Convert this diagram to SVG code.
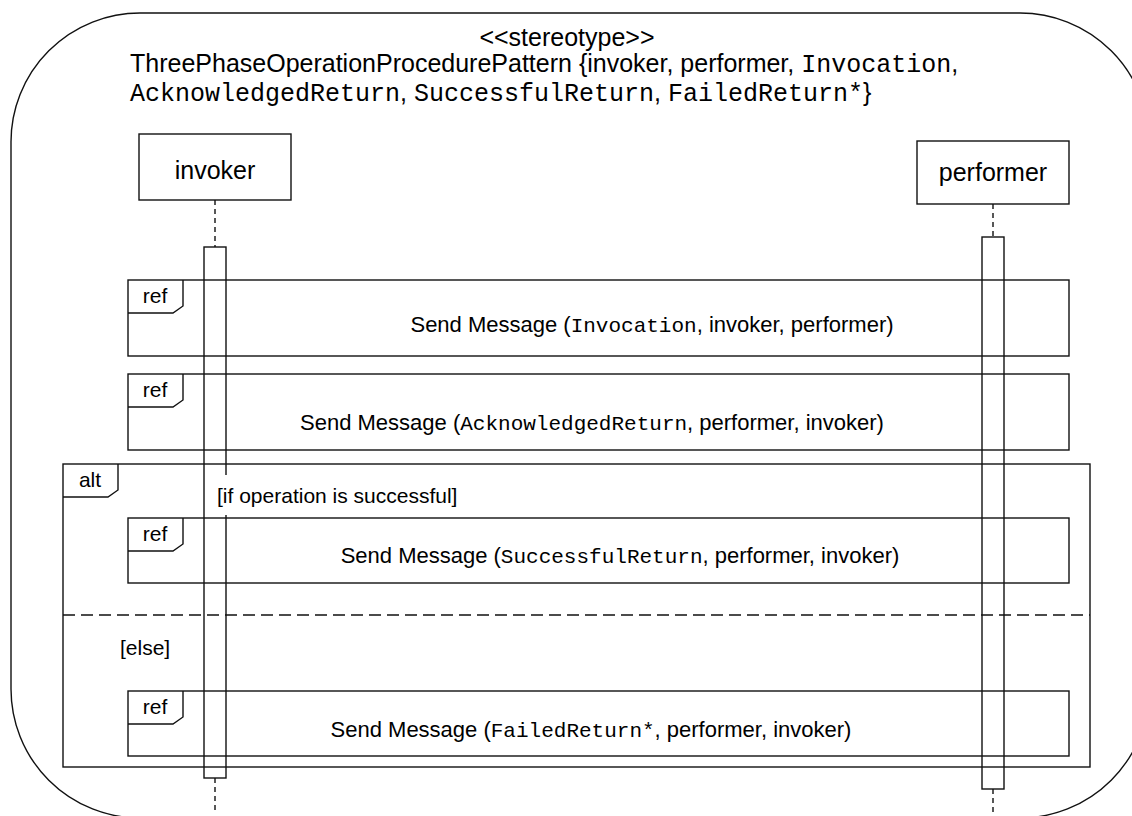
<svg xmlns="http://www.w3.org/2000/svg" width="1132" height="816" viewBox="0 0 1132 816">
<style>
.ln{fill:none;stroke:#111;stroke-width:1.4}
.t{font-family:"Liberation Sans",Arial,sans-serif;fill:#000}
.m{font-family:"Liberation Mono","Courier New",monospace}
.big{font-size:25px}
.msg{font-size:22px}
.lbl{font-size:21px}
.dash{stroke-dasharray:5,4}
</style>
<rect width="1132" height="816" fill="#fff"/>
<g id="frame">
<rect class="ln" x="11" y="13" width="1138" height="805" rx="129" ry="129"/>
<text class="t big" x="567" y="46" text-anchor="middle">&lt;&lt;stereotype&gt;&gt;</text>
<text class="t big" x="130" y="72">ThreePhaseOperationProcedurePattern {invoker, performer, <tspan class="m">Invocation</tspan>,</text>
<text class="t big" x="130" y="101"><tspan class="m">AcknowledgedReturn</tspan>, <tspan class="m">SuccessfulReturn</tspan>, <tspan class="m">FailedReturn*</tspan>}</text>
</g>
<g id="invoker">
<rect class="ln" x="139" y="134" width="152" height="66"/>
<text class="t big" x="215" y="179" text-anchor="middle">invoker</text>
</g>
<g id="performer">
<rect class="ln" x="917" y="141" width="152" height="63"/>
<text class="t big" x="993" y="181" text-anchor="middle">performer</text>
</g>
<g id="ref1">
<rect class="ln" x="128" y="280" width="941" height="76"/>
<path class="ln" d="M128,313 H173 L183,306 V280"/>
<text class="t lbl" x="155" y="303" text-anchor="middle">ref</text>
<text class="t msg" x="652" y="332" text-anchor="middle">Send Message (<tspan class="m" font-size="21">Invocation</tspan>, invoker, performer)</text>
</g>
<g id="ref2">
<rect class="ln" x="128" y="374" width="941" height="76"/>
<path class="ln" d="M128,407 H173 L183,400 V374"/>
<text class="t lbl" x="155" y="397" text-anchor="middle">ref</text>
<text class="t msg" x="592" y="430" text-anchor="middle">Send Message (<tspan class="m" font-size="21">AcknowledgedReturn</tspan>, performer, invoker)</text>
</g>
<g id="alt">
<rect class="ln" x="63" y="464" width="1027" height="303"/>
<path class="ln" d="M63,497 H108 L118,490 V464"/>
<text class="t lbl" x="90" y="487" text-anchor="middle">alt</text>
<line class="ln" x1="63" y1="615" x2="1090" y2="615" stroke-dasharray="12,6"/>
<text class="t lbl" x="120" y="655">[else]</text>
</g>
<g id="ref3">
<rect class="ln" x="128" y="518" width="941" height="65"/>
<path class="ln" d="M128,551 H173 L183,544 V518"/>
<text class="t lbl" x="155" y="541" text-anchor="middle">ref</text>
<text class="t msg" x="620" y="563" text-anchor="middle">Send Message (<tspan class="m" font-size="21">SuccessfulReturn</tspan>, performer, invoker)</text>
</g>
<g id="ref4">
<rect class="ln" x="128" y="691" width="941" height="65"/>
<path class="ln" d="M128,724 H173 L183,717 V691"/>
<text class="t lbl" x="155" y="714" text-anchor="middle">ref</text>
<text class="t msg" x="591" y="737" text-anchor="middle">Send Message (<tspan class="m" font-size="21">FailedReturn*</tspan>, performer, invoker)</text>
</g>
<g id="connectors">
<line class="ln dash" x1="215" y1="200" x2="215" y2="247"/>
<rect class="ln" x="204" y="247" width="22" height="531"/>
<line class="ln dash" x1="215" y1="778" x2="215" y2="812"/>
<line class="ln dash" x1="993" y1="204" x2="993" y2="237"/>
<rect class="ln" x="982" y="237" width="22" height="552"/>
<line class="ln dash" x1="993" y1="789" x2="993" y2="812"/>
</g>
<g id="guard">
<rect x="205" y="475" width="262" height="40" fill="#fff"/>
<text class="t lbl" x="217" y="503">[if operation is successful]</text>
</g>
</svg>
